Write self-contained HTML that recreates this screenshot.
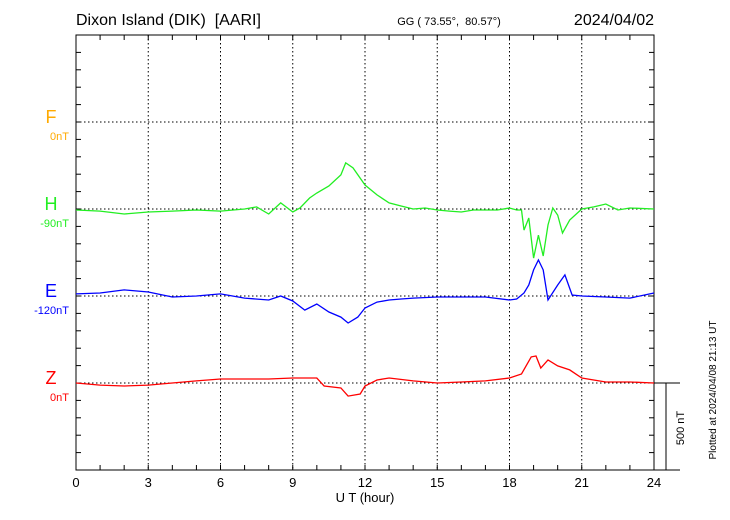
<!DOCTYPE html>
<html><head><meta charset="utf-8"><style>
body{margin:0;background:#fff;}
svg{display:block;font-family:"Liberation Sans",sans-serif;}
</style></head><body>
<svg id="c" width="730" height="520"></svg>
<script>
const hHours=[0,1,2,3,4,5,6,7,7.5,8,8.5,9,9.3,9.7,10,10.5,11,11.2,11.5,12,12.5,13,13.5,14,14.5,15,15.5,16,16.5,17,17.5,18,18.3,18.5,18.6,18.8,19,19.2,19.4,19.6,19.8,20,20.2,20.5,21,21.5,22,22.5,23,24];
const hVals=[-6,-12,-29,-17,-12,-6,-12,0,12,-29,35,-17,6,63,92,132,196,265,236,138,81,35,17,0,6,-6,-12,-17,-6,-6,-6,6,-6,-6,-121,-52,-282,-150,-270,-92,6,-35,-138,-63,0,12,29,-6,6,0];
const eHours=[0,1,2,3,4,5,6,7,8,8.5,9,9.5,10,10.5,11,11.3,11.7,12,12.5,13,13.5,14,15,16,17,18,18.3,18.6,18.8,19,19.2,19.4,19.6,20,20.3,20.6,21,22,23,24];
const eVals=[12,17,35,23,-6,0,12,-12,-23,0,-29,-81,-46,-92,-121,-155,-121,-69,-35,-23,-17,-12,-6,-6,-6,-23,-17,17,63,150,207,150,-23,63,121,6,0,-6,-12,17];
const zHours=[0,1,2,3,4,5,6,7,8,9,10,10.3,11,11.3,11.8,12,12.5,13,14,15,16,17,18,18.5,18.9,19.1,19.3,19.6,20,20.5,21,22,23,24];
const zVals=[0,-12,-17,-12,0,12,23,23,23,29,29,-17,-29,-75,-63,-17,17,29,12,0,6,12,29,52,150,155,86,132,98,75,29,6,6,0];
const xTicks=[0,3,6,9,12,15,18,21,24];

const NS='http://www.w3.org/2000/svg';
const svg=document.getElementById('c');
const L=76,R=654,T=35,B=470,pxPerNT=87/500;
const x=h=>L+(R-L)*h/24;
const y=(base,v)=>base-v*pxPerNT;
function mk(tag,attrs,parent){const e=document.createElementNS(NS,tag);for(const k in attrs)e.setAttribute(k,attrs[k]);(parent||svg).appendChild(e);return e;}
function txt(s,attrs){const e=mk('text',attrs);e.textContent=s;return e;}

const frame=mk('rect',{x:L,y:T,width:R-L,height:B-T,fill:'none',stroke:'#000','stroke-width':1});


for(const h of xTicks.slice(1,-1)){
  const g=mk('line',{x1:x(h),x2:x(h),y1:T,y2:B,stroke:'#000','stroke-dasharray':'1.5,2.5','stroke-width':1});
  
  
}
for(let h=0;h<=24;h++){
  const t=mk('line',{x1:x(h),x2:x(h),y1:B,y2:B-5,stroke:'#000'});
  
  
  const t2=mk('line',{x1:x(h),x2:x(h),y1:T,y2:T+5,stroke:'#000'});
  
  
}
for(let yy=B;yy>=T;yy-=17.4){
  const a=mk('line',{x1:L,x2:L+5,y1:yy,y2:yy,stroke:'#000'});
  
  
  const b=mk('line',{x1:R,x2:R-5,y1:yy,y2:yy,stroke:'#000'});
  
  
}
for(const h of xTicks){
  const t=txt(String(h),{x:x(h),y:487,'font-size':13,'text-anchor':'middle'});
  
  
}
const xt=txt('U T (hour)',{x:365,y:502,'font-size':13,'text-anchor':'middle'});



const comps=[
 {n:'F',base:122,col:'#ffaa00',lab:'0nT'},
 {n:'H',base:209,col:'#22ee22',lab:'-90nT',hs:hHours,vs:hVals},
 {n:'E',base:296,col:'#0000ff',lab:'-120nT',hs:eHours,vs:eVals},
 {n:'Z',base:383,col:'#ff0000',lab:'0nT',hs:zHours,vs:zVals}
];
for(const c of comps){
  const bl=mk('line',{x1:L,x2:R,y1:c.base,y2:c.base,stroke:'#000','stroke-dasharray':'1.5,2.5'});
  
  
  const a=txt(c.n,{x:51,y:c.base+1,'font-size':18,'text-anchor':'middle',fill:c.col});
  
  
  const b=txt(c.lab,{x:69,y:c.base+18,'font-size':11,'text-anchor':'end',fill:c.col});
  
  
  if(c.hs){
    const pts=c.hs.map((h,i)=>x(h).toFixed(1)+','+y(c.base,c.vs[i]).toFixed(1)).join(' ');
    const p=mk('polyline',{points:pts,fill:'none',stroke:c.col,'stroke-width':1.3});
    
    
  }
}
const sb=mk('g',{});


mk('line',{x1:R,x2:680,y1:383,y2:383,stroke:'#000'},sb);
mk('line',{x1:R,x2:680,y1:B,y2:B,stroke:'#000'},sb);
mk('line',{x1:666,x2:666,y1:383,y2:B,stroke:'#000'},sb);
const st=txt('500 nT',{x:0,y:0,'font-size':11,transform:'translate(684,428) rotate(-90)','text-anchor':'middle'});


const pl=txt('Plotted at 2024/04/08 21:13 UT',{x:0,y:0,'font-size':10,transform:'translate(716,390) rotate(-90)','text-anchor':'middle'});


const t1=txt('Dixon Island (DIK)\u00a0\u00a0[AARI]',{x:76,y:25,'font-size':16});


const t2=txt('GG ( 73.55°,\u00a0\u00a080.57°)',{x:449,y:25,'font-size':11,'text-anchor':'middle'});


const t3=txt('2024/04/02',{x:654,y:25,'font-size':16,'text-anchor':'end'});


</script>
</body></html>
